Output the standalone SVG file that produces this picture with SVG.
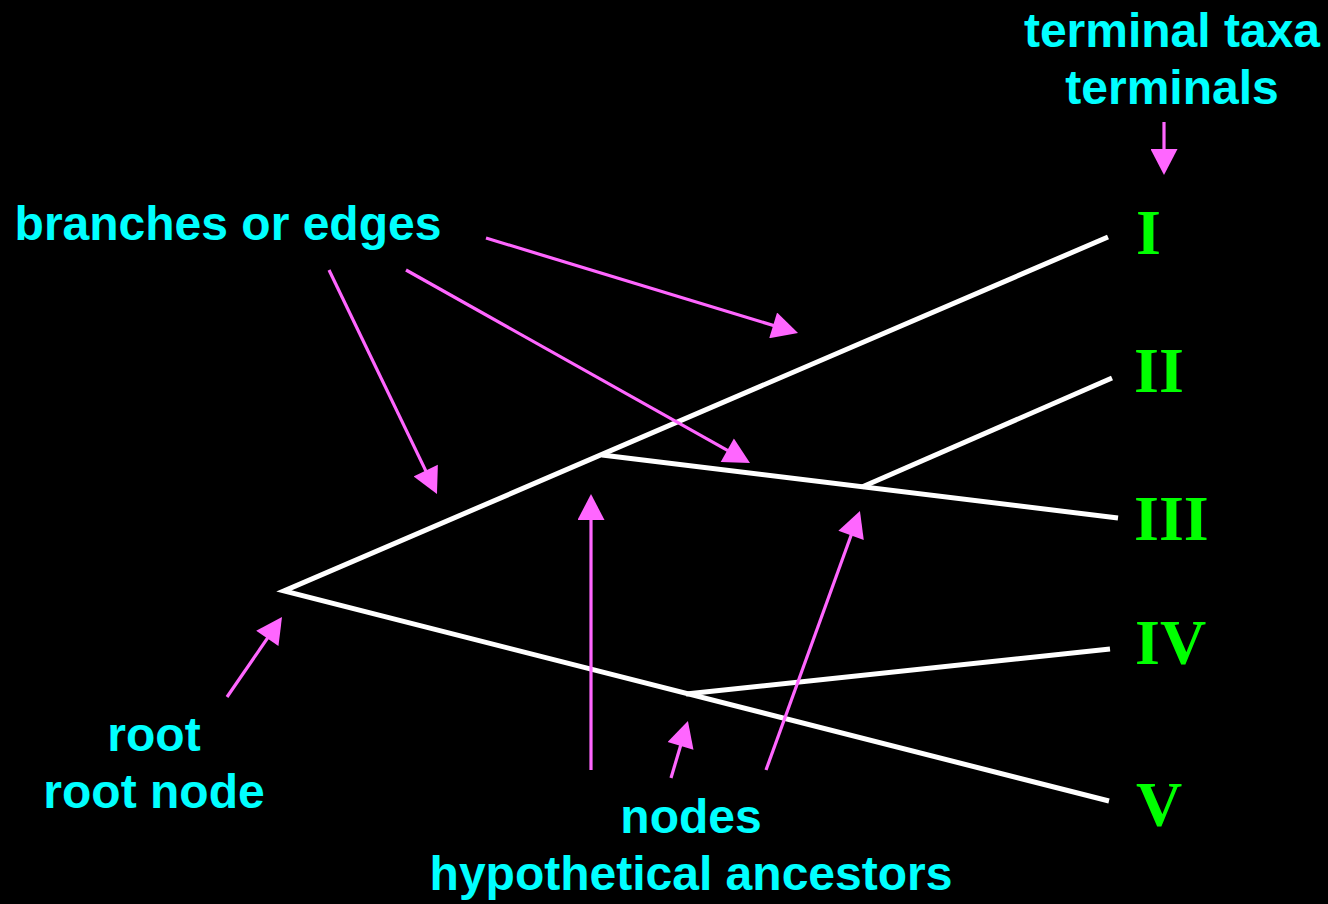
<svg xmlns="http://www.w3.org/2000/svg" width="1328" height="904" viewBox="0 0 1328 904">
<style>
.lbl{font-family:"Liberation Sans",Arial,sans-serif;font-weight:bold;font-size:48px;fill:#00FFFF;text-anchor:middle}
.tax{font-family:"Liberation Serif","Times New Roman",serif;font-weight:bold;font-size:64px;fill:#00FF00}
.br{stroke:#FFFFFF;stroke-width:5;fill:none;stroke-linecap:butt;stroke-linejoin:miter}
.ar{stroke:#FF66FF;stroke-width:3.2;fill:none;marker-end:url(#ah)}
</style>
<defs>
<marker id="ah" markerUnits="userSpaceOnUse" markerWidth="27" markerHeight="27" refX="15" refY="13.5" orient="auto" viewBox="0 0 26 27">
<path d="M0,0 L26,13.5 L0,27 z" fill="#FF66FF"/>
</marker>
</defs>
<rect x="0" y="0" width="1328" height="904" fill="#000000"/>
<g id="tree">
<polyline class="br" points="1108,237 284,591 1109,801"/>
<polyline class="br" points="602,455 1118,518"/>
<line class="br" x1="862" y1="487" x2="1112" y2="378"/>
<line class="br" x1="686" y1="694" x2="1110" y2="649"/>
</g>
<g id="connectors">
<line class="ar" x1="1164" y1="122" x2="1164" y2="164"/>
<line class="ar" x1="486" y1="238" x2="787.5" y2="329.8"/>
<line class="ar" x1="406" y1="270" x2="740.4" y2="457.6"/>
<line class="ar" x1="329" y1="270" x2="432.2" y2="484.1"/>
<line class="ar" x1="227" y1="697" x2="275.8" y2="626"/>
<line class="ar" x1="591" y1="770" x2="591" y2="505"/>
<line class="ar" x1="671" y1="778" x2="684.8" y2="731.5"/>
<line class="ar" x1="766" y1="770" x2="856.2" y2="521.3"/>
</g>
<g id="terminal-label"><text class="lbl" x="1172" y="47">terminal taxa</text><text class="lbl" x="1172" y="104">terminals</text></g>
<g id="branches-label"><text class="lbl" x="228" y="240">branches or edges</text></g>
<g id="root-label"><text class="lbl" x="154" y="751">root</text><text class="lbl" x="154" y="808">root node</text></g>
<g id="nodes-label"><text class="lbl" x="691" y="833">nodes</text><text class="lbl" x="691" y="890">hypothetical ancestors</text></g>
<g id="taxon-I"><text class="tax" x="1136" y="254">I</text></g>
<g id="taxon-II"><text class="tax" x="1134" y="392">II</text></g>
<g id="taxon-III"><text class="tax" x="1134" y="540">III</text></g>
<g id="taxon-IV"><text class="tax" x="1135" y="664">IV</text></g>
<g id="taxon-V"><text class="tax" x="1136" y="826">V</text></g>
</svg>
